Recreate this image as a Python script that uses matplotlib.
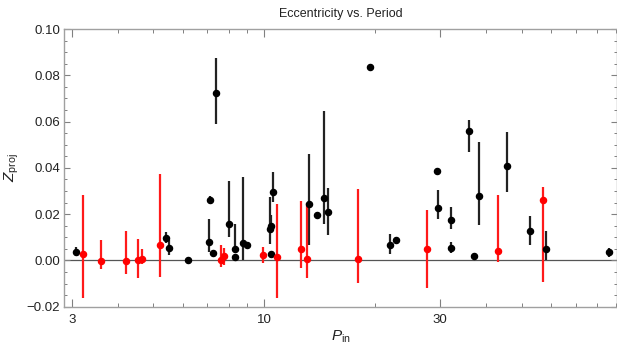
import numpy as np
import matplotlib
matplotlib.use("Agg")
import matplotlib.pyplot as plt
from matplotlib.ticker import FixedLocator, NullFormatter, FixedFormatter, MultipleLocator

plt.rcParams['font.family'] = ['Liberation Sans', 'DejaVu Sans']
plt.rcParams['mathtext.fontset'] = 'custom'
plt.rcParams['mathtext.rm'] = 'Liberation Sans'
plt.rcParams['mathtext.it'] = 'Liberation Sans:italic'

# Black series: period, Z, lower bound, upper bound
black_P = [3.08, 5.41, 5.50, 6.21, 7.08, 7.14, 7.24, 7.39, 8.02, 8.31, 8.35, 8.75, 8.96,
           10.34, 10.43, 10.45, 10.56, 13.22, 13.9, 14.5, 14.86, 19.33, 21.9, 22.8,
           29.4, 29.6, 32.1, 32.2, 36.0, 37.1, 38.3, 45.5, 52.6, 58.3, 86.4]
black_Z = [0.0036, 0.0098, 0.0054, 0.0003, 0.0081, 0.0263, 0.0032, 0.0725, 0.0158, 0.0051,
           0.0016, 0.0074, 0.0067, 0.0135, 0.0149, 0.0028, 0.0297, 0.0244, 0.0195, 0.0271,
           0.0211, 0.0834, 0.0065, 0.0090, 0.0386, 0.0225, 0.0055, 0.0176, 0.0560, 0.0019,
           0.0279, 0.0410, 0.0127, 0.0051, 0.0035]
black_lo = [0.0019, 0.0074, 0.0023, 0.0003, 0.0035, 0.0247, 0.0032, 0.0589, 0.0100, 0.0031,
            0.0016, 0.0000, 0.0067, 0.0070, 0.0119, 0.0028, 0.0254, 0.0067, 0.0195, 0.0158,
            0.0110, 0.0834, 0.0028, 0.0078, 0.0386, 0.0179, 0.0031, 0.0136, 0.0468, 0.0019,
            0.0153, 0.0295, 0.0067, 0.0000, 0.0016]
black_hi = [0.0057, 0.0124, 0.0088, 0.0003, 0.0178, 0.0279, 0.0032, 0.0875, 0.0345, 0.0158,
            0.0016, 0.0360, 0.0067, 0.0276, 0.0197, 0.0028, 0.0381, 0.0460, 0.0195, 0.0644,
            0.0312, 0.0834, 0.0113, 0.0102, 0.0386, 0.0305, 0.0081, 0.0233, 0.0608, 0.0019,
            0.0511, 0.0557, 0.0194, 0.0127, 0.0052]

# Red series
red_P = [3.21, 3.61, 4.22, 4.54, 4.65, 5.20, 7.63, 7.78, 9.90, 10.80, 12.58, 13.08,
         18.0, 27.6, 43.0, 57.0]
red_Z = [0.0029, -0.0003, -0.0003, 0.0000, 0.0007, 0.0065, 0.0002, 0.0019, 0.0023, 0.0016,
         0.0051, 0.0006, 0.0005, 0.0048, 0.0042, 0.0263]
red_lo = [-0.0164, -0.0039, -0.0060, -0.0075, -0.0016, -0.0073, -0.0027, -0.0020, -0.0013,
          -0.0164, -0.0034, -0.0075, -0.0097, -0.0121, -0.0006, -0.0092]
red_hi = [0.0283, 0.0088, 0.0129, 0.0093, 0.0051, 0.0374, 0.0067, 0.0052, 0.0059, 0.0244,
          0.0257, 0.0247, 0.0309, 0.0218, 0.0284, 0.0319]

x_major = [3, 10, 30]
x_major_labels = ['3', '10', '30']
x_minor = [4, 5, 6, 7, 8, 9, 20, 40, 50, 60, 70, 80, 90]

fig = plt.figure(figsize=(6.17, 3.47), dpi=100)
ax = fig.add_axes([0.1042, 0.1161, 0.8958, 0.8003])

def draw(P, Z, lo, hi, color, ecolor):
    P = np.array(P); Z = np.array(Z); lo = np.array(lo); hi = np.array(hi)
    yerr = np.vstack([Z - lo, hi - Z])
    ax.errorbar(P, Z, yerr=yerr, fmt='o', color=color, ecolor=ecolor, elinewidth=1.6,
                markersize=4.4, capsize=0, zorder=3)

ax.axhline(0, color='#555555', lw=0.9, zorder=1)
draw(black_P, black_Z, black_lo, black_hi, 'black', '#222222')
draw(red_P, red_Z, red_lo, red_hi, '#ff0000', '#ff1a1a')

ax.set_xscale('log')
ax.set_xlim(2.864, 90.7)
ax.set_ylim(-0.02, 0.10)

ax.xaxis.set_major_locator(FixedLocator(x_major))
ax.xaxis.set_major_formatter(FixedFormatter(x_major_labels))
ax.xaxis.set_minor_locator(FixedLocator(x_minor))
ax.xaxis.set_minor_formatter(NullFormatter())
ax.yaxis.set_major_locator(MultipleLocator(0.02))
ax.yaxis.set_minor_locator(MultipleLocator(0.005))
ax.yaxis.set_major_formatter(matplotlib.ticker.FuncFormatter(lambda v, p: f"{v:.2f}".replace('-', '\u2212') if abs(v) > 1e-9 else "0.00"))

for s in ax.spines.values():
    s.set_color('#a0a0a0')
    s.set_linewidth(1.0)

ax.tick_params(axis='both', which='both', direction='in', top=True, right=True,
               color='#808080', labelsize=9.5, labelcolor='#222222')
ax.tick_params(axis='x', which='major', length=6, width=0.8, pad=5)
ax.tick_params(axis='x', which='minor', length=3, width=0.7)
ax.tick_params(axis='y', which='major', length=4.5, width=0.8, pad=3)
ax.tick_params(axis='y', which='minor', length=2.5, width=0.7)

ax.set_title('Eccentricity vs. Period', fontsize=9, color='#222222', pad=9)
ax.set_xlabel(r'$P_{\rm in}$', fontsize=11, color='#222222', labelpad=2)
ax.set_ylabel(r'$Z_{\rm proj}$', fontsize=11, color='#222222', labelpad=4)

fig.savefig('out.png', dpi=100)
